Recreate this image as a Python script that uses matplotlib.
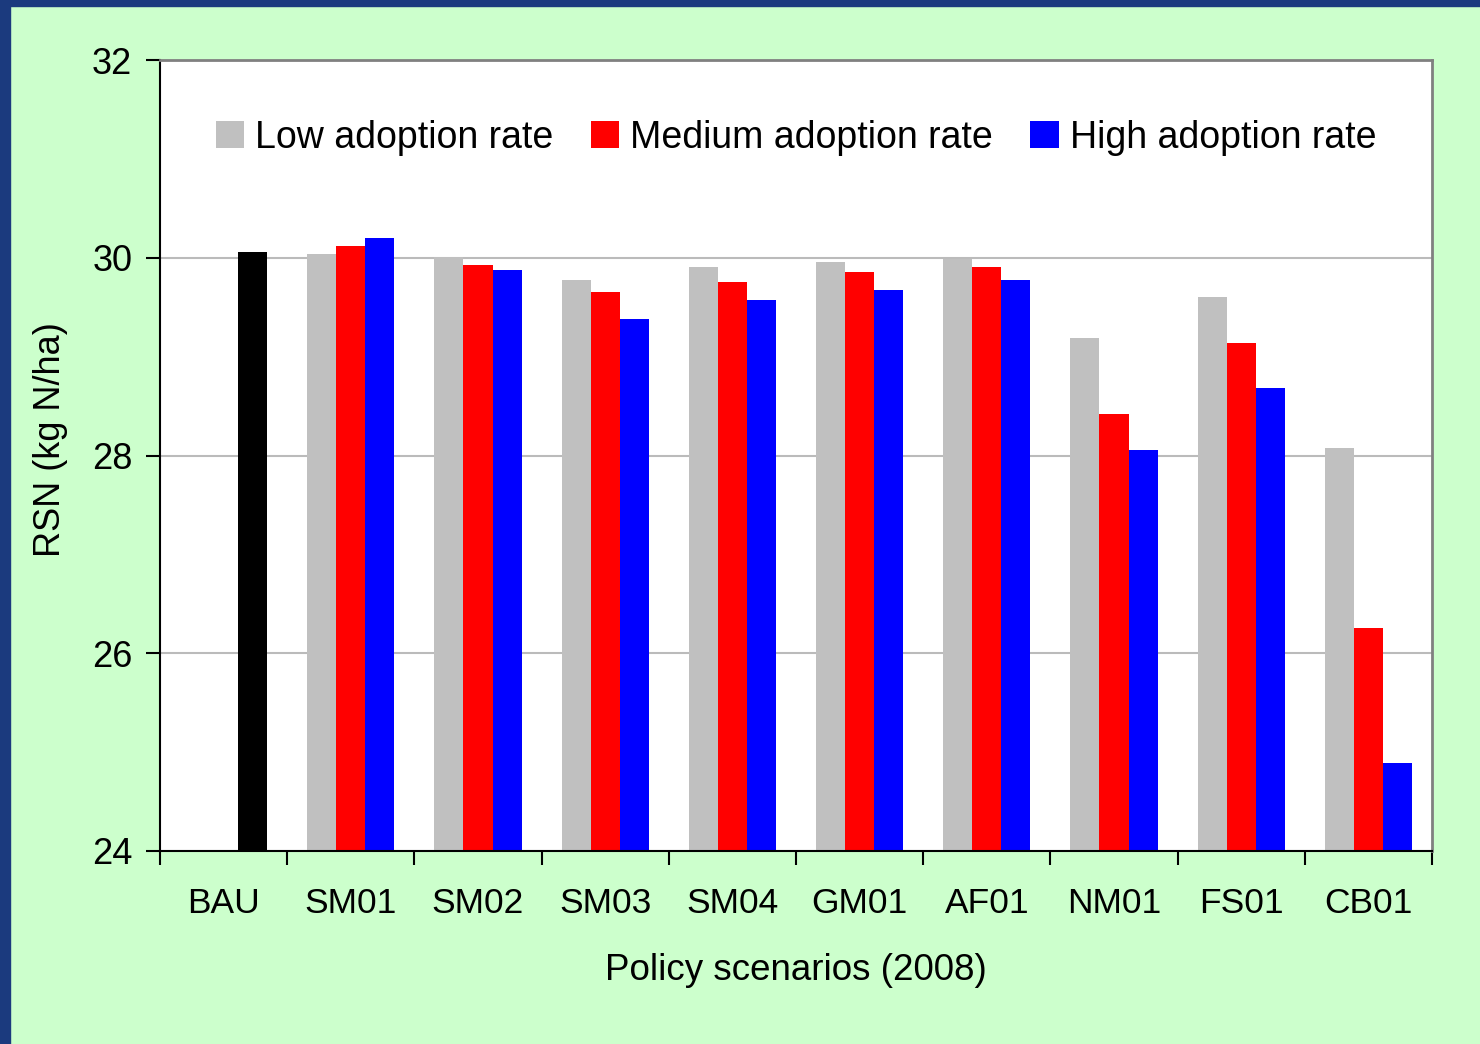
import numpy as np
import matplotlib.pyplot as plt
from matplotlib.patches import Rectangle

plt.rcParams['font.family'] = ['Liberation Sans', 'DejaVu Sans']

# policy scenarios, RSN values (kg N/ha)
scenarios = ["SM01", "SM02", "SM03", "SM04", "GM01", "AF01", "NM01", "FS01", "CB01"]
bau_value = 30.06
low = [30.04, 30.01, 29.78, 29.91, 29.96, 29.99, 29.19, 29.60, 28.08]
medium = [30.12, 29.93, 29.65, 29.75, 29.86, 29.91, 28.42, 29.14, 26.26]
high = [30.20, 29.88, 29.38, 29.57, 29.67, 29.78, 28.06, 28.68, 24.89]

categories = ["BAU"] + scenarios
series_names = ["Low adoption rate", "Medium adoption rate", "High adoption rate"]
colors = ["#C0C0C0", "#FF0000", "#0000FF"]

fig = plt.figure(figsize=(14.8, 10.44), dpi=100)
fig.patch.set_facecolor("#CCFFCC")

# dark blue slide border on top and left
fig.patches.append(Rectangle((0, 1 - 6 / 1044), 1, 6 / 1044, transform=fig.transFigure,
                             color="#1B3A7E", zorder=0))
fig.patches.append(Rectangle((0, 0), 10 / 1480, 1, transform=fig.transFigure,
                             color="#1B3A7E", zorder=0))

ax = fig.add_axes([160 / 1480, 1 - 851 / 1044, 1272 / 1480, 791 / 1044])
ax.set_facecolor("white")

w = 0.228
x = np.arange(1, len(categories))
ax.bar(x - w, low, width=w, color=colors[0], label=series_names[0], zorder=2)
ax.bar(x, medium, width=w, color=colors[1], label=series_names[1], zorder=2)
ax.bar(x + w, high, width=w, color=colors[2], label=series_names[2], zorder=2)
ax.bar([0 + w], [bau_value], width=w, color="black", zorder=2)

ax.set_xlim(-0.5, len(categories) - 0.5)
ax.set_ylim(24, 32)
ax.set_yticks([24, 26, 28, 30, 32])
ax.yaxis.grid(True, color="#BBBBBB", linewidth=1.5, zorder=1)

# x ticks sit on the group boundaries, labels at group centres
ax.set_xticks(np.arange(-0.5, len(categories), 1.0))
ax.set_xticklabels([])
ax.set_xticks(np.arange(len(categories)), minor=True)
ax.set_xticklabels(categories, minor=True, fontsize=25.5)
ax.tick_params(axis="x", which="major", direction="out", length=10, width=1.5)
ax.tick_params(axis="x", which="minor", length=0, pad=26)
ax.tick_params(axis="y", direction="out", length=10, width=1.5, labelsize=26, pad=10)

for s in ["left", "bottom"]:
    ax.spines[s].set_color("black")
    ax.spines[s].set_linewidth(1.5)
for s in ["top", "right"]:
    ax.spines[s].set_color("#808080")
    ax.spines[s].set_linewidth(2)

ax.set_xlabel("Policy scenarios (2008)", fontsize=26.5, labelpad=24)
ax.set_ylabel("RSN (kg N/ha)", fontsize=26)
ax.yaxis.set_label_coords(-0.0727, 0.5196)

ax.legend(loc="center", bbox_to_anchor=(0.5, 0.902), ncol=3, frameon=False,
          fontsize=27, handlelength=0.75, handleheight=0.75, handletextpad=0.3,
          columnspacing=1.0, borderaxespad=0)

fig.savefig("out.png", dpi=100, facecolor=fig.get_facecolor())
